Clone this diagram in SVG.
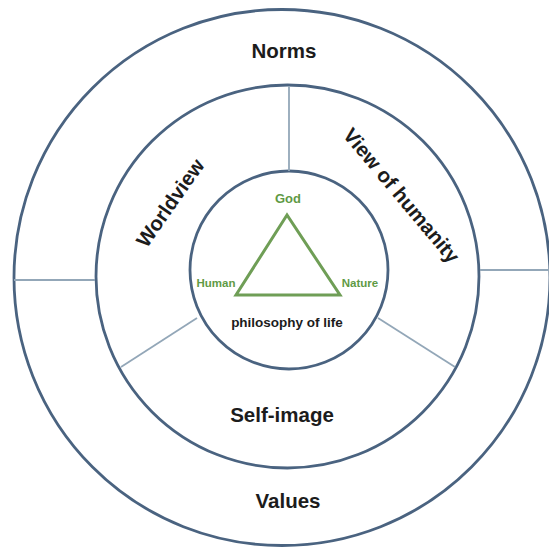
<svg xmlns="http://www.w3.org/2000/svg" width="549" height="552" viewBox="0 0 549 552">
  <style>
    .ring { fill: none; stroke: #4a6380; stroke-width: 2.8; }
    .div { stroke: #93a7b8; stroke-width: 1.8; fill: none; }
    .lbl { font-family: "Liberation Sans", Arial, sans-serif; font-weight: bold; fill: #1c1c1c; text-anchor: middle; }
    .big { font-size: 20.5px; }
    .g { font-family: "Liberation Sans", Arial, sans-serif; font-weight: bold; fill: #5f9a45; font-size: 11.5px; text-anchor: middle; }
  </style>
  <rect width="549" height="552" fill="#ffffff"/>
  <g id="rings">
    <circle class="ring" cx="282" cy="277.5" r="268"/>
    <circle class="ring" cx="287.5" cy="276.5" r="191.5"/>
    <circle class="ring" cx="289" cy="270" r="99"/>
  </g>
  <g id="connectors">
    <line class="div" x1="289" y1="86" x2="289" y2="171"/>
    <line class="div" x1="14" y1="280" x2="95" y2="280"/>
    <line class="div" x1="480" y1="270" x2="549" y2="270"/>
    <line class="div" x1="197" y1="318" x2="121" y2="367"/>
    <line class="div" x1="378" y1="318" x2="455" y2="367"/>
  </g>
  <g id="norms"><text class="lbl big" x="284" y="58">Norms</text></g>
  <g id="values"><text class="lbl big" x="288" y="508">Values</text></g>
  <g id="self-image"><text class="lbl big" x="282" y="422">Self-image</text></g>
  <g id="worldview"><text class="lbl big" transform="translate(176,207) rotate(-55)">Worldview</text></g>
  <g id="view-of-humanity"><text class="lbl big" transform="translate(396,200) rotate(50)">View of humanity</text></g>
  <g id="philosophy">
    <polygon points="287,215 236,295 340,295" fill="none" stroke="#6f9e56" stroke-width="3" stroke-linejoin="miter"/>
    <text class="g" style="font-size:13px" x="288" y="203">God</text>
    <text class="g" x="216" y="287">Human</text>
    <text class="g" x="360" y="287">Nature</text>
    <text class="lbl" style="font-size:13.5px" x="287" y="327">philosophy of life</text>
  </g>
</svg>
